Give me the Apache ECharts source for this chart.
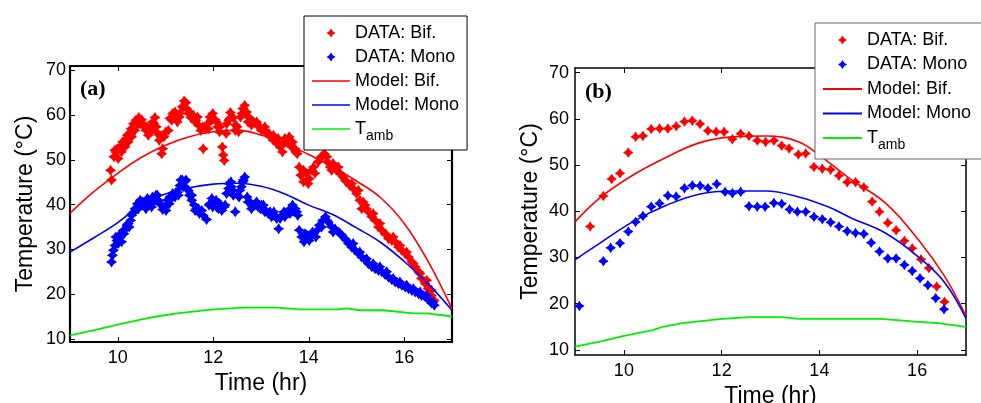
<!DOCTYPE html>
<html>
<head>
<meta charset="utf-8">
<script src="https://cdn.jsdelivr.net/npm/echarts@6/dist/echarts.min.js"></script>
<style>
html, body { margin: 0; padding: 0; background: #fff; }
#chart { width: 981px; height: 403px; }
</style>
</head>
<body>
<div id="chart"></div>
<script>
// Tick positions shared by both panels
const timeTicks = [10, 12, 14, 16];
const tempTicks = [10, 20, 30, 40, 50, 60, 70];

// Panel (a): measured collector temperatures, [time hr, temperature °C]
const dataBifA = [
  [9.85,47.7],[9.87,45.5],[9.92,50.7],[9.96,51.8],[9.99,52.5],[10.05,52.9],[10.10,54.0],[10.15,54.4],
  [10.20,55.5],[10.24,55.9],[10.28,57.0],[10.33,58.1],[10.38,58.9],[10.44,59.5],[10.50,59.0],[10.55,57.8],
  [10.59,56.6],[10.64,55.5],[10.68,57.0],[10.73,58.5],[10.78,59.5],[10.83,55.9],[10.87,54.4],[10.92,51.4],
  [10.94,52.5],[11.01,56.3],[11.06,56.6],[11.09,59.3],[11.15,60.4],[11.20,59.6],[11.25,58.5],[11.30,60.4],
  [11.35,61.9],[11.39,63.2],[11.43,62.8],[11.48,60.4],[11.53,59.5],[11.58,60.0],[11.64,58.9],[11.69,57.8],
  [11.74,56.6],[11.79,52.5],[11.83,57.0],[11.88,58.1],[11.93,59.6],[11.99,60.4],[12.04,59.0],[12.09,57.4],
  [12.13,56.3],[12.19,52.9],[12.21,51.1],[12.23,49.9],[12.27,55.9],[12.32,58.9],[12.36,60.6],[12.42,59.5],
  [12.47,57.8],[12.53,56.3],[12.57,59.6],[12.62,61.5],[12.66,62.2],[12.70,60.7],[12.75,59.5],[12.80,58.9],
  [12.86,58.3],[12.92,57.8],[12.98,57.4],[13.05,56.8],[13.12,56.1],[13.19,55.2],[13.26,54.4],[13.33,53.7],
  [13.40,52.9],[13.45,51.8],[13.52,54.0],[13.59,55.2],[13.66,54.0],[13.71,52.5],[13.76,51.4],[13.80,48.4],
  [13.83,46.6],[13.89,45.1],[13.94,47.0],[14.01,45.8],[14.06,47.7],[14.13,47.0],[14.20,49.6],[14.27,50.8],
  [14.33,51.4],[14.39,49.6],[14.45,48.4],[14.51,49.2],[14.58,47.7],[14.65,47.0],[14.72,46.2],[14.79,45.1],
  [14.86,44.3],[14.93,43.6],[15.00,42.5],[15.07,41.0],[15.11,39.1],[15.18,39.9],[15.25,38.4],[15.32,37.3],
  [15.39,36.5],[15.46,35.0],[15.53,34.3],[15.60,33.5],[15.67,32.4],[15.74,32.0],[15.81,31.7],[15.88,30.5],
  [15.95,29.8],[16.02,29.1],[16.09,28.3],[16.16,27.2],[16.23,26.1],[16.30,25.0],[16.36,23.5],[16.44,22.3],
  [16.50,21.2],[16.57,19.7],[16.63,18.6],
  [9.94,52.2],[10.01,50.3],[10.08,51.8],[10.15,52.9],[10.22,54.0],[10.29,55.2],[10.36,56.6],[10.41,57.8],
  [10.47,58.1],[10.52,57.8],[10.62,57.4],[10.71,56.6],[10.76,58.1],[10.81,57.4],[10.88,55.5],[10.97,55.2],
  [11.13,58.9],[11.20,60.7],[11.29,59.6],[11.38,61.9],[11.44,61.5],[11.51,60.7],[11.62,58.5],[11.67,59.6],
  [11.78,57.4],[11.90,57.0],[11.97,58.9],[12.07,58.5],[12.14,57.4],[12.28,58.1],[12.35,59.3],[12.46,56.6],
  [12.50,57.4],[12.60,60.4],[12.67,60.7],[12.73,58.5],[12.80,57.8],[12.91,58.5],[13.01,56.6],[13.08,57.4],
  [13.17,55.9],[13.26,55.5],[13.36,54.8],[13.43,53.3],[13.50,54.8],[13.57,54.0],[13.64,52.9],[13.73,51.8],
  [13.89,47.7],[13.99,44.7],[14.10,48.4],[14.24,50.3],[14.38,50.7],[14.48,47.7],[14.62,48.4],[14.76,45.5],
  [14.90,44.7],[15.04,43.2],[15.14,40.6],[15.21,39.1],[15.35,38.0],[15.49,35.8],[15.63,33.2],[15.77,32.8],
  [15.91,30.9],[16.05,29.4],[16.19,26.8],[16.33,24.6],[16.47,23.1],[16.57,20.9]
];
const dataMonoA = [
  [9.87,27.2],[9.89,28.7],[9.94,30.9],[9.98,32.0],[10.03,33.2],[10.08,31.7],[10.13,33.5],[10.17,34.6],
  [10.22,35.8],[10.27,36.5],[10.31,38.0],[10.36,39.1],[10.41,40.2],[10.47,41.0],[10.52,40.6],[10.57,39.9],
  [10.62,41.4],[10.68,40.2],[10.73,41.7],[10.78,41.0],[10.83,42.1],[10.88,40.2],[10.94,38.9],[10.99,39.5],
  [11.04,41.0],[11.09,41.7],[11.15,42.5],[11.20,41.7],[11.25,42.8],[11.30,44.3],[11.35,45.5],[11.40,45.1],
  [11.44,43.6],[11.50,42.1],[11.55,41.0],[11.60,39.9],[11.65,39.1],[11.71,38.0],[11.76,38.7],[11.86,36.7],
  [11.91,39.9],[11.97,41.4],[12.02,40.6],[12.07,39.5],[12.13,40.2],[12.18,38.7],[12.23,39.5],[12.28,42.5],
  [12.33,44.7],[12.38,44.0],[12.42,42.1],[12.46,38.4],[12.51,42.1],[12.56,43.2],[12.62,45.1],[12.66,46.2],
  [12.71,41.7],[12.77,40.6],[12.83,39.9],[12.88,40.2],[12.94,39.5],[12.99,39.1],[13.05,39.9],[13.10,38.7],
  [13.16,38.0],[13.22,37.3],[13.27,38.4],[13.33,36.9],[13.37,34.6],[13.43,37.6],[13.48,38.4],[13.54,38.0],
  [13.61,39.1],[13.66,39.9],[13.72,39.1],[13.77,37.6],[13.80,34.3],[13.85,32.8],[13.90,31.7],[13.96,33.2],
  [14.01,32.0],[14.08,33.9],[14.15,32.8],[14.22,35.4],[14.29,36.5],[14.35,37.3],[14.41,36.1],[14.48,35.0],
  [14.55,34.6],[14.62,33.9],[14.69,33.2],[14.76,32.4],[14.83,31.3],[14.90,30.5],[14.97,29.8],[15.04,29.1],
  [15.11,28.3],[15.18,27.6],[15.25,26.8],[15.32,26.1],[15.39,25.7],[15.46,25.3],[15.53,25.0],[15.60,24.4],
  [15.67,23.8],[15.74,23.2],[15.81,22.7],[15.88,22.3],[15.95,22.0],[16.02,21.6],[16.09,21.2],[16.16,20.8],
  [16.23,20.5],[16.30,20.1],[16.36,19.7],[16.44,19.4],[16.50,18.8],[16.57,18.0],[16.63,17.5],
  [9.91,29.8],[9.96,32.8],[10.01,31.3],[10.06,32.8],[10.12,34.3],[10.19,35.4],[10.24,35.0],[10.29,37.6],
  [10.34,38.4],[10.43,39.1],[10.50,39.9],[10.59,39.1],[10.64,41.0],[10.71,39.5],[10.80,42.1],[10.85,41.0],
  [10.92,39.9],[11.01,38.7],[11.08,40.2],[11.13,41.4],[11.22,42.8],[11.27,42.1],[11.32,45.5],[11.37,44.0],
  [11.43,45.5],[11.48,43.2],[11.55,42.1],[11.62,38.7],[11.69,39.1],[11.79,37.6],[11.93,40.2],[11.99,39.5],
  [12.06,41.0],[12.11,39.1],[12.16,39.9],[12.25,39.9],[12.32,43.6],[12.37,45.1],[12.41,43.2],[12.54,41.7],
  [12.59,44.0],[12.63,45.5],[12.73,40.6],[12.80,39.1],[12.91,40.6],[13.01,39.9],[13.08,38.4],[13.19,38.4],
  [13.29,37.6],[13.40,36.9],[13.50,37.3],[13.61,38.0],[13.68,38.7],[13.75,38.4],
  [13.92,33.5],[14.04,32.8],[14.18,34.3],[14.27,35.0],[14.38,36.5],[14.51,33.9],[14.66,33.5],[14.79,32.0],
  [14.93,31.3],[15.07,29.4],[15.21,27.9],[15.35,26.8],[15.49,26.1],[15.63,25.0],[15.77,23.5],[15.91,22.7],
  [16.05,22.0],[16.19,21.2],[16.33,20.5],[16.47,19.7],[16.60,18.2]
];
// Panel (a): model predictions and ambient temperature
const modelBifA = [
  [9.0,38.1],[9.5,42.9],[10.0,47.0],[10.5,50.6],[11.0,53.3],[11.5,55.2],[12.0,56.3],[12.5,56.6],[13.0,55.6],
  [13.5,53.7],[14.0,51.2],[14.5,48.5],[15.0,45.3],[15.5,41.6],[16.0,35.8],[16.5,27.3],[17.0,16.7]
];
const modelMonoA = [
  [9.0,29.4],[9.5,32.6],[10.0,36.0],[10.5,40.1],[11.0,42.4],[11.5,43.8],[12.0,44.6],[12.5,44.8],[13.0,44.1],
  [13.5,42.4],[14.0,39.9],[14.5,37.8],[15.0,34.8],[15.5,31.6],[16.0,27.3],[16.5,22.3],[17.0,16.4]
];
const ambientA = [
  [9.0,10.8],[9.49,11.9],[10.0,13.2],[10.53,14.4],[10.82,15.0],[11.24,15.7],[12.0,16.6],[12.63,17.0],
  [13.34,17.0],[13.82,16.6],[14.6,16.6],[14.8,16.8],[15.07,16.4],[15.56,16.4],[16.19,15.7],[16.48,15.7],[17.0,15.0]
];

// Panel (b): ten-minute measurements
const dataBifB = [
  [9.31,36.7],[9.58,43.3],[9.75,47.0],[9.92,48.2],[10.09,52.7],[10.24,56.1],[10.39,56.3],[10.56,57.8],
  [10.73,57.9],[10.90,57.9],[11.07,58.4],[11.24,59.4],[11.40,59.6],[11.56,58.9],[11.72,57.4],[11.89,57.2],
  [12.05,57.2],[12.22,55.6],[12.39,56.8],[12.56,56.3],[12.73,55.3],[12.90,55.0],[13.07,55.3],[13.23,54.2],
  [13.38,53.6],[13.57,52.3],[13.72,52.5],[13.89,49.6],[14.06,49.2],[14.23,49.0],[14.40,47.7],[14.57,46.3],
  [14.74,46.3],[14.91,45.2],[15.08,42.1],[15.23,39.9],[15.40,37.5],[15.57,35.9],[15.74,33.6],[15.90,32.0],
  [16.08,29.6],[16.24,27.7],[16.40,23.7],[16.56,20.4]
];
const dataMonoB = [
  [9.09,19.5],[9.58,29.2],[9.73,32.1],[9.92,33.1],[10.09,35.6],[10.24,37.7],[10.39,39.0],[10.56,41.0],
  [10.73,41.7],[10.90,43.4],[11.07,43.2],[11.24,45.0],[11.40,45.6],[11.56,45.5],[11.72,45.0],[11.90,45.9],
  [12.07,44.2],[12.22,43.9],[12.39,44.2],[12.56,41.1],[12.73,41.0],[12.89,41.0],[13.07,41.8],[13.23,41.6],
  [13.39,40.4],[13.55,39.9],[13.72,39.9],[13.89,38.8],[14.06,38.3],[14.23,37.6],[14.40,36.7],[14.57,35.7],
  [14.74,35.3],[14.91,35.1],[15.06,33.2],[15.23,31.3],[15.40,29.8],[15.57,29.8],[15.74,28.4],[15.90,27.1],
  [16.06,25.5],[16.22,24.0],[16.38,21.2],[16.55,18.8]
];
const modelBifB = [
  [9.0,37.7],[9.51,42.9],[10.18,47.8],[10.87,51.7],[11.54,54.8],[12.22,56.1],[12.9,56.3],[13.58,55.0],
  [14.09,51.4],[14.66,46.8],[15.35,41.8],[16.03,33.8],[16.57,25.8],[17.0,17.3]
];
const modelMonoB = [
  [9.0,29.5],[9.51,33.1],[10.18,37.7],[10.87,41.3],[11.54,43.7],[12.22,44.4],[12.9,44.4],[13.58,43.1],
  [14.19,40.9],[14.66,38.5],[15.35,35.3],[16.03,30.1],[16.57,24.5],[17.0,16.8]
];
const ambientB = [
  [9.0,10.7],[9.51,11.8],[9.98,13.0],[10.59,14.3],[10.79,15.0],[11.2,15.8],[12.0,16.7],[12.56,17.1],
  [13.24,17.1],[13.58,16.7],[14.25,16.7],[15.27,16.7],[15.96,16.1],[16.43,15.8],[17.0,15.0]
];

const legendNames = ['DATA: Bif.', 'DATA: Mono', 'Model: Bif.', 'Model: Mono', 'T_amb'];

const FONT = 'Liberation Sans, Arial, sans-serif';
const RED = '#ff0000', BLUE = '#0000ff', GREEN = '#00ee00';
const STAR = 'path://M0,-10 L4,-4 L10,0 L4,4 L0,10 L-4,4 L-10,0 L-4,-4 Z';
const DASH = 'path://M0,0 L40,0 L40,1.8 L0,1.8 Z';

const grids = [
  { left: 70, top: 66, width: 382, height: 276, yMin: 9.3, yMax: 71, axisW: 2.2 },
  { left: 575, top: 68, width: 391, height: 287, yMin: 8.9, yMax: 71, axisW: 1.5 }
];

const xAxes = [], yAxes = [];
grids.forEach((g, i) => {
  const line = { show: true, onZero: false, lineStyle: { color: '#000', width: g.axisW } };
  const tick = (vals) => ({ show: true, inside: true, length: 5, customValues: vals, lineStyle: { color: '#000', width: 1 } });
  xAxes.push({
    gridIndex: i, type: 'value', position: 'bottom', min: 9, max: 17,
    name: 'Time (hr)', nameLocation: 'middle', nameGap: 25,
    nameTextStyle: { fontSize: 23, color: '#000', fontFamily: FONT },
    axisLine: line, axisTick: tick(timeTicks),
    axisLabel: { customValues: timeTicks, fontSize: 18, color: '#000', fontFamily: FONT, margin: 7 },
    splitLine: { show: false }
  });
  xAxes.push({
    gridIndex: i, type: 'value', position: 'top', min: 9, max: 17,
    axisLine: line, axisTick: tick(timeTicks), axisLabel: { show: false }, splitLine: { show: false }
  });
  yAxes.push({
    gridIndex: i, type: 'value', position: 'left', min: g.yMin, max: g.yMax,
    name: 'Temperature (°C)', nameLocation: 'middle', nameGap: 33,
    nameTextStyle: { fontSize: 23, color: '#000', fontFamily: FONT },
    axisLine: line, axisTick: tick(tempTicks),
    axisLabel: { customValues: tempTicks, fontSize: 18, color: '#000', fontFamily: FONT, margin: i === 0 ? 4 : 6 },
    splitLine: { show: false }
  });
  yAxes.push({
    gridIndex: i, type: 'value', position: 'right', min: g.yMin, max: g.yMax,
    axisLine: line, axisTick: tick(tempTicks), axisLabel: { show: false }, splitLine: { show: false }
  });
});

function panelSeries(i, bif, mono, mBif, mMono, amb, markSize) {
  const ax = { xAxisIndex: i * 2, yAxisIndex: i * 2 };
  return [
    Object.assign({ type: 'scatter', name: legendNames[0], data: bif, symbol: STAR, symbolSize: markSize,
      itemStyle: { color: RED, opacity: 1 }, z: 2 }, ax),
    Object.assign({ type: 'scatter', name: legendNames[1], data: mono, symbol: STAR, symbolSize: markSize,
      itemStyle: { color: BLUE, opacity: 1 }, z: 2 }, ax),
    Object.assign({ type: 'line', name: legendNames[2], data: mBif, smooth: 0.4, symbol: 'none',
      lineStyle: { color: RED, width: 1.6 }, itemStyle: { color: RED }, z: 3 }, ax),
    Object.assign({ type: 'line', name: legendNames[3], data: mMono, smooth: 0.4, symbol: 'none',
      lineStyle: { color: BLUE, width: 1.6 }, itemStyle: { color: BLUE }, z: 3 }, ax),
    Object.assign({ type: 'line', name: legendNames[4], data: amb, smooth: false, symbol: 'none',
      lineStyle: { color: GREEN, width: 1.8 }, itemStyle: { color: GREEN }, z: 3 }, ax)
  ];
}

function legendBox(left, top, border, pad, iconW, gap) {
  return {
    left: left, top: top, orient: 'vertical', selectedMode: false,
    backgroundColor: '#fff', borderColor: border, borderWidth: 1, borderRadius: 0,
    padding: pad, itemWidth: iconW, itemHeight: 9, itemGap: gap,
    data: legendNames.map((n, k) => k < 2 ? { name: n } : { name: n, icon: DASH }),
    formatter: (name) => name === 'T_amb' ? '{t|T}{s|amb}' : name,
    textStyle: {
      fontSize: 18, fontFamily: FONT, color: '#000', lineHeight: 20,
      rich: {
        t: { fontSize: 18, fontFamily: FONT, color: '#000', lineHeight: 20 },
        s: { fontSize: 14, fontFamily: FONT, color: '#000', padding: [14, 0, 0, 0] }
      }
    }
  };
}

function panelTag(letter, left, top) {
  return {
    text: '{p|(}{b|' + letter + '}{p|)}', left: left, top: top, padding: 0,
    textStyle: {
      rich: {
        p: { fontFamily: 'Liberation Serif, serif', fontSize: 22, color: '#000' },
        b: { fontFamily: 'Liberation Serif, serif', fontSize: 22, fontWeight: 'bold', color: '#000' }
      }
    }
  };
}

const chart = echarts.init(document.getElementById('chart'), null, { renderer: 'canvas' });
chart.setOption({
  animation: false,
  backgroundColor: '#fff',
  title: [panelTag('a', 80, 78), panelTag('b', 585, 81)],
  grid: grids.map(g => ({ left: g.left, top: g.top, width: g.width, height: g.height, outerBoundsMode: 'none', containLabel: false })),
  xAxis: xAxes,
  yAxis: yAxes,
  legend: [
    legendBox(304, 16, '#000', [7, 8, 7, 8], 38, 4),
    legendBox(815, 23, '#666', [7, 16, 7, 8], 39, 4.5)
  ],
  series: [].concat(
    panelSeries(0, dataBifA, dataMonoA, modelBifA, modelMonoA, ambientA, 11),
    panelSeries(1, dataBifB, dataMonoB, modelBifB, modelMonoB, ambientB, 10.5)
  )
});
</script>
</body>
</html>
